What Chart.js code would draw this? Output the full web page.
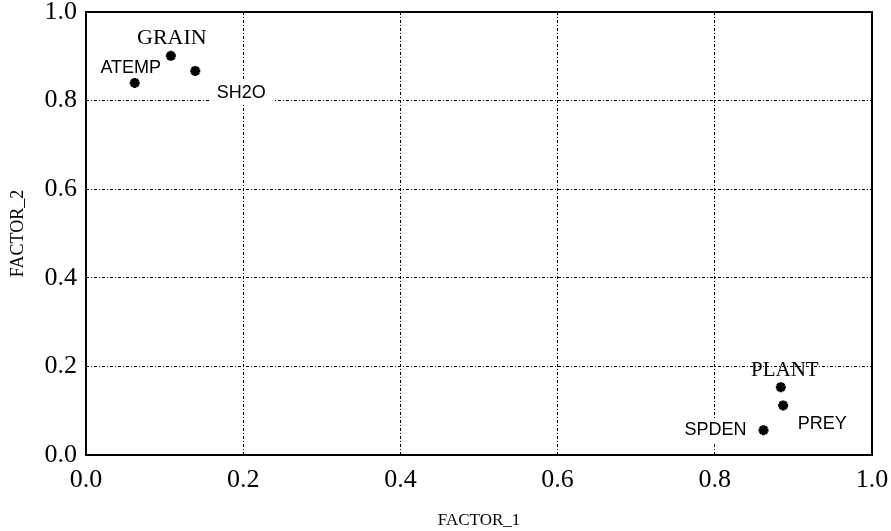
<!DOCTYPE html>
<html lang="en">
<head>
  <meta charset="UTF-8" />
  <title>FACTOR_1 vs FACTOR_2</title>
  <script src="https://cdn.jsdelivr.net/npm/chart.js"></script>
  <style>
    body { margin: 0; padding: 0; background: #fff; }
    canvas { display: block; }
  </style>
</head>
<body>
  <canvas id="chart" width="891" height="531"></canvas>

  <script>
    // variable loadings
    const names   = ['ATEMP', 'GRAIN', 'SH2O', 'PLANT', 'PREY', 'SPDEN'];
    const factor1 = [0.062, 0.108, 0.139, 0.884, 0.887, 0.862];
    const factor2 = [0.840, 0.901, 0.867, 0.153, 0.112, 0.056];
    const ticks   = [0.0, 0.2, 0.4, 0.6, 0.8, 1.0];

    // how each name is placed next to its point (pixel offsets, font, white box)
    const labelStyle = {
      ATEMP: { dx: -4,  dy: -15, font: '18px "Liberation Sans"', box: false },
      GRAIN: { dx: 1,   dy: -18, font: '22px "Liberation Serif"', box: false },
      SH2O:  { dx: 46,  dy: 22,  font: '18px "Liberation Sans"', box: true },
      PLANT: { dx: 4,   dy: -17, font: '21px "Liberation Serif"', box: false },
      PREY:  { dx: 39,  dy: 19,  font: '18px "Liberation Sans"', box: false },
      SPDEN: { dx: -48, dy: 0,   font: '18px "Liberation Sans"', box: true }
    };

    const points = names.map((n, i) => ({ x: factor1[i], y: factor2[i], name: n }));

    const pointLabels = {
      id: 'pointLabels',
      afterDatasetsDraw(chart) {
        const ctx = chart.ctx;
        const meta = chart.getDatasetMeta(0);
        ctx.save();
        ctx.textAlign = 'center';
        ctx.textBaseline = 'middle';
        meta.data.forEach((el, i) => {
          const s = labelStyle[names[i]];
          const x = el.x + s.dx, y = el.y + s.dy;
          ctx.font = s.font;
          if (s.box) {
            const w = ctx.measureText(names[i]).width;
            ctx.fillStyle = '#fff';
            ctx.fillRect(x - w / 2 - 7, y - 12, w + 14, 24);
          }
          ctx.fillStyle = '#000';
          ctx.fillText(names[i], x, y);
        });
        ctx.restore();
      }
    };

    const frame = {
      id: 'frame',
      afterDraw(chart) {
        const { left, right, top, bottom } = chart.chartArea;
        const ctx = chart.ctx;
        ctx.save();
        ctx.strokeStyle = '#000';
        ctx.lineWidth = 2;
        ctx.strokeRect(left, top, right - left, bottom - top);
        ctx.restore();
      }
    };

    const gridStyle = {
      color: '#000',
      lineWidth: 1,
      drawTicks: false
    };
    const tickFont = { family: '"Liberation Serif"', size: 26 };

    new Chart(document.getElementById('chart'), {
      type: 'scatter',
      data: {
        datasets: [{
          data: points,
          pointStyle: 'star',
          radius: 5,
          borderWidth: 3,
          borderColor: '#000',
          backgroundColor: '#000'
        }]
      },
      options: {
        responsive: false,
        animation: false,
        layout: { padding: { top: 12, right: 19, left: 0, bottom: 0 } },
        plugins: { legend: { display: false }, tooltip: { enabled: false } },
        scales: {
          x: {
            type: 'linear',
            min: 0, max: 1,
            afterBuildTicks: s => { s.ticks = ticks.map(v => ({ value: v })); },
            afterFit: s => {
              s.height = 76;
              s.paddingLeft = 0;
              s.paddingRight = 0;
            },
            grid: gridStyle,
            border: { display: false, dash: [3, 2, 1, 2] },
            ticks: {
              color: '#000',
              font: tickFont,
              padding: 10,
              maxRotation: 0,
              callback: v => v.toFixed(1)
            },
            title: {
              display: true,
              text: 'FACTOR_1',
              color: '#000',
              font: { family: '"Liberation Serif"', size: 17 },
              padding: { top: 0, bottom: 0 }
            }
          },
          y: {
            type: 'linear',
            min: 0, max: 1,
            afterBuildTicks: s => { s.ticks = ticks.map(v => ({ value: v })); },
            afterFit: s => {
              s.width = 86;
              s.paddingTop = 0;
              s.paddingBottom = 0;
            },
            grid: gridStyle,
            border: { display: false, dash: [3, 2, 1, 2] },
            ticks: {
              color: '#000',
              font: tickFont,
              padding: 9,
              callback: v => v.toFixed(1)
            },
            title: {
              display: true,
              text: 'FACTOR_2',
              color: '#000',
              font: { family: '"Liberation Serif"', size: 18 },
              padding: { top: 7, bottom: 0 }
            }
          }
        }
      },
      plugins: [pointLabels, frame]
    });
  </script>
</body>
</html>
